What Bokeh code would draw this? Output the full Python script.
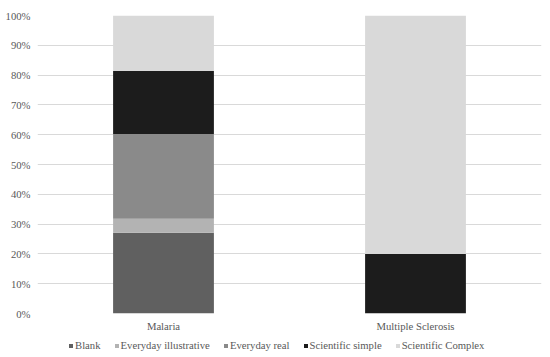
from bokeh.plotting import figure
from bokeh.models import ColumnDataSource, FactorRange, Range1d, NumeralTickFormatter, FixedTicker, Legend
from bokeh.layouts import column
from bokeh.embed import file_html
from bokeh.resources import INLINE

categories = ["Malaria", "Multiple Sclerosis"]
series_names = ["Blank", "Everyday illustrative", "Everyday real", "Scientific simple", "Scientific Complex"]
blank = [27.1, 0.0]
everyday_illustrative = [4.7, 0.0]
everyday_real = [28.4, 0.0]
scientific_simple = [21.2, 20.0]
scientific_complex = [18.6, 80.0]
colors = ["#606060", "#b3b3b3", "#8a8a8a", "#1c1c1c", "#d9d9d9"]
y_ticks = [i / 10 for i in range(11)]

keys = ["s0", "s1", "s2", "s3", "s4"]
series = [blank, everyday_illustrative, everyday_real, scientific_simple, scientific_complex]
data = {"cat": categories}
for k, s in zip(keys, series):
    data[k] = [v / 100 for v in s]
source = ColumnDataSource(data)

FONT = "Liberation Serif"
TXT = "#595959"

x_range = FactorRange(*categories, range_padding=0)

p = figure(x_range=x_range, y_range=Range1d(0, 1),
           width=550, height=334, output_backend="svg", toolbar_location=None,
           min_border_left=37, min_border_right=9, min_border_top=15, min_border_bottom=19)

p.vbar_stack(keys, x="cat", width=0.4, color=colors, source=source, line_width=0)

p.outline_line_color = None
p.xgrid.grid_line_color = None
p.ygrid.grid_line_color = "#d9d9d9"
p.ygrid.grid_line_width = 1
p.ygrid.ticker = FixedTicker(ticks=y_ticks)

p.yaxis.ticker = FixedTicker(ticks=y_ticks)
p.yaxis.formatter = NumeralTickFormatter(format="0%")
for ax in (p.xaxis[0], p.yaxis[0]):
    ax.axis_line_color = None
    ax.major_tick_line_color = None
    ax.minor_tick_line_color = None
    ax.major_tick_out = 0
    ax.major_tick_in = 0
    ax.major_label_text_font = FONT
    ax.major_label_text_font_size = "10.7px"
    ax.major_label_text_color = TXT
p.yaxis.major_label_standoff = 7
p.xaxis.major_label_standoff = 6

# legend strip (bars drawn outside its visible range, only the legend shows)
lg = figure(x_range=x_range, y_range=Range1d(5, 6), width=550, height=22,
            output_backend="svg", toolbar_location=None,
            x_axis_location=None, y_axis_location=None,
            min_border_left=0, min_border_right=0, min_border_top=0, min_border_bottom=0)
lg.outline_line_color = None
lg.xgrid.visible = False
lg.ygrid.visible = False
lg_renderers = lg.vbar_stack(keys, x="cat", width=0.4, color=colors, source=source, line_width=0)

legend = Legend(items=[(n, [r]) for n, r in zip(series_names, lg_renderers)],
                orientation="horizontal", location=(31, 5),
                label_text_font=FONT, label_text_font_size="10.7px", label_text_color=TXT,
                glyph_width=5, glyph_height=5, label_standoff=2, spacing=13,
                padding=0, margin=0, border_line_color=None, background_fill_alpha=0,
                label_height=12)
lg.add_layout(legend, "center")

layout = column(p, lg, spacing=0)
open("out.html", "w").write(file_html(layout, INLINE))
